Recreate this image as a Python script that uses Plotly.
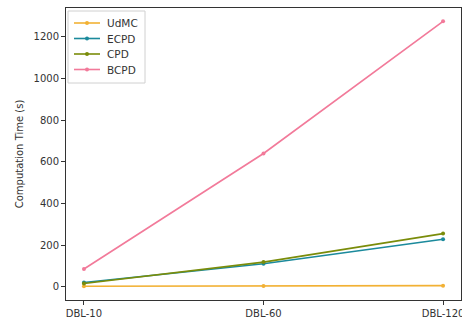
import plotly.graph_objects as go

categories = ["DBL-10", "DBL-60", "DBL-120"]
udmc = [2, 3, 5]
ecpd = [20, 110, 228]
cpd = [15, 118, 255]
bcpd = [85, 640, 1275]

series = [
    ("UdMC", udmc, "#f2b134"),
    ("ECPD", ecpd, "#1b8a9c"),
    ("CPD", cpd, "#7a8c0a"),
    ("BCPD", bcpd, "#f27a9a"),
]

W, H = 462, 322
L, R, T, B = 66, 1, 8, 22
PW, PH = W - L - R, H - T - B


def px(xp):
    return (xp - L) / PW


def py(yp):
    return (H - B - yp) / PH


x = list(range(len(categories)))
fig = go.Figure()
for name, vals, col in series:
    fig.add_trace(go.Scatter(
        x=x, y=vals, name=name, mode="lines+markers",
        line=dict(color=col, width=1.6),
        marker=dict(color=col, size=4, symbol="circle"),
        showlegend=False,
    ))

# manual legend (matplotlib style)
shapes = [dict(type="rect", xref="paper", yref="paper",
               x0=px(68), x1=px(145), y0=py(83), y1=py(11),
               line=dict(color="#d0d0d0", width=1), fillcolor="rgba(255,255,255,0.8)",
               layer="above")]
annotations = []
row_y = [23, 38.5, 54, 69.5]
for (name, vals, col), ry in zip(series, row_y):
    shapes.append(dict(type="line", xref="paper", yref="paper",
                       x0=px(74), x1=px(100), y0=py(ry), y1=py(ry),
                       line=dict(color=col, width=1.6), layer="above"))
    shapes.append(dict(type="circle", xref="paper", yref="paper",
                       x0=px(85), x1=px(89), y0=py(ry + 2), y1=py(ry - 2),
                       line=dict(color=col, width=0), fillcolor=col, layer="above"))
    annotations.append(dict(xref="paper", yref="paper", x=px(105), y=py(ry),
                            xanchor="left", yanchor="middle", text=name, showarrow=False,
                            font=dict(size=10.5, color="#333333")))

fig.update_layout(
    width=W, height=H,
    margin=dict(l=L, r=R, t=T, b=B),
    paper_bgcolor="white", plot_bgcolor="white",
    font=dict(family="DejaVu Sans", size=10, color="#333333"),
    showlegend=False,
    shapes=shapes,
    annotations=annotations,
    xaxis=dict(range=[-0.1, 2.1], tickvals=x, ticktext=categories,
               ticklabeloverflow="allow", automargin=False,
               showline=True, linecolor="#333333", linewidth=1, mirror=True,
               ticks="outside", ticklen=4, tickcolor="#333333",
               showgrid=False, zeroline=False),
    yaxis=dict(range=[-64, 1339], tickvals=[0, 200, 400, 600, 800, 1000, 1200],
               automargin=False,
               showline=True, linecolor="#333333", linewidth=1, mirror=True,
               ticks="outside", ticklen=4, tickcolor="#333333",
               showgrid=False, zeroline=False,
               title=dict(text="Computation Time (s)", font=dict(size=10), standoff=8)),
)

fig.write_html("out.html")
